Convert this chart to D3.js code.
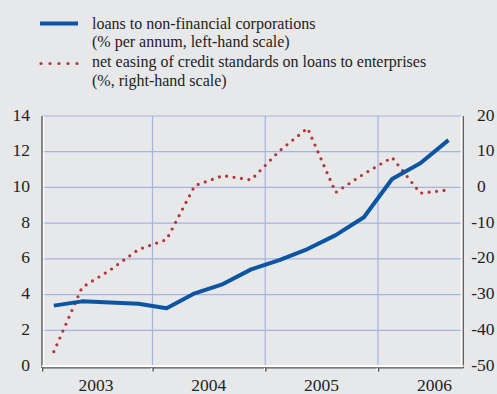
<!DOCTYPE html>
<html>
<head>
<meta charset="utf-8">
<script src="https://cdn.jsdelivr.net/npm/d3@7"></script>
<style>
  html, body { margin: 0; padding: 0; background: #e7e8ea; }
  svg { display: block; }
  svg text { font-family: "Liberation Serif", "Noto Serif", "DejaVu Serif", "Times New Roman", Times, FreeSerif, serif; }
</style>
</head>
<body>
<svg id="chart" width="497" height="394"></svg>
<script>
// ---- data (quarterly, plotted at mid-quarter month) ----
const periods = ["2003-02","2003-05","2003-08","2003-11",
                 "2004-02","2004-05","2004-08","2004-11",
                 "2005-02","2005-05","2005-08","2005-11",
                 "2006-02","2006-05","2006-08"];
const loansGrowth = [3.38, 3.62, 3.56, 3.49, 3.23, 4.07, 4.59, 5.41,
                     5.93, 6.55, 7.33, 8.33, 10.47, 11.35, 12.65];
const creditEasing = [-46, -28, -23.1, -17.4, -14.6, 0.5, 3.3, 2.1,
                      10.2, 16.6, -1.4, 3.8, 8.4, -1.6, -0.7];
const years = [2003, 2004, 2005, 2006];
const leftTicks = [0, 2, 4, 6, 8, 10, 12, 14];
const rightTicks = [-50, -40, -30, -20, -10, 0, 10, 20];
const legendLabels = [
  ["loans to non-financial corporations", "(% per annum, left-hand scale)"],
  ["net easing of credit standards on loans to enterprises", "(%, right-hand scale)"]
];

const toYear = p => { const [y, m] = p.split("-").map(Number); return y + (m - 0.5) / 12; };

const svg = d3.select("#chart").attr("font-size", 17.5).attr("fill", "#222");
const L = 42, R = 462, T = 116, B = 366;

const x = d3.scaleLinear().domain([2003.02, 2006.745]).range([L, R]);
const yL = d3.scaleLinear().domain([0, 14]).range([B, T]);
const yR = d3.scaleLinear().domain([-50, 20]).range([B, T]);

const gridColor = "#a6b3e0";

svg.append("g").selectAll("line").data(leftTicks.filter(d => d > 0)).join("line")
  .attr("x1", L).attr("x2", R)
  .attr("y1", d => yL(d)).attr("y2", d => yL(d))
  .attr("stroke", gridColor).attr("stroke-width", 1.2);

svg.append("g").selectAll("line").data(years.slice(1)).join("line")
  .attr("x1", d => x(d)).attr("x2", d => x(d))
  .attr("y1", T).attr("y2", B)
  .attr("stroke", gridColor).attr("stroke-width", 1.2);

const ax = svg.append("g");
ax.append("line").attr("x1", L + 1.5).attr("x2", L + 1.5).attr("y1", T).attr("y2", B + 1).attr("stroke", "#fff").attr("stroke-width", 1.5);
ax.append("line").attr("x1", L).attr("x2", L).attr("y1", T).attr("y2", B + 2).attr("stroke", "#444").attr("stroke-width", 1.2);
ax.append("line").attr("x1", R - 0.5).attr("x2", R - 0.5).attr("y1", T).attr("y2", B + 1).attr("stroke", "#fff").attr("stroke-width", 1.5);
ax.append("line").attr("x1", R + 1.3).attr("x2", R + 1.3).attr("y1", T).attr("y2", B + 2).attr("stroke", "#555").attr("stroke-width", 1.2);
ax.append("line").attr("x1", L).attr("x2", R + 1.5).attr("y1", B).attr("y2", B).attr("stroke", "#fff").attr("stroke-width", 2);
ax.append("line").attr("x1", L).attr("x2", R + 1.5).attr("y1", B + 1.8).attr("y2", B + 1.8).attr("stroke", "#555").attr("stroke-width", 1.2);
const tickYears = [2003.02, 2004, 2005, 2006];
ax.selectAll(".tw").data(tickYears).join("line")
  .attr("x1", d => x(d) - 0.8).attr("x2", d => x(d) - 0.8)
  .attr("y1", B + 2).attr("y2", B + 5).attr("stroke", "#fff").attr("stroke-width", 1.2);
ax.selectAll(".td").data(tickYears).join("line")
  .attr("x1", d => x(d) + 0.6).attr("x2", d => x(d) + 0.6)
  .attr("y1", B + 2).attr("y2", B + 5.5).attr("stroke", "#444").attr("stroke-width", 1.2);

svg.append("g").selectAll("text").data(years).join("text")
  .attr("x", d => x(d + 0.5)).attr("y", 391)
  .attr("text-anchor", "middle")
  .text(d => d);

svg.append("g").selectAll("text").data(leftTicks).join("text")
  .attr("x", 30).attr("y", d => yL(d) + 4.5)
  .attr("text-anchor", "end")
  .text(d => d);

svg.append("g").selectAll("text").data(rightTicks).join("text")
  .attr("x", 477).attr("y", d => yR(d) + 4.5)
  .attr("dx", d => d < 0 ? "-0.333em" : 0)
  .attr("text-anchor", "start")
  .text(d => d < 0 ? "-" + Math.abs(d) : d);

const lineR = d3.line().x((d, i) => x(toYear(periods[i]))).y(d => yR(d));
svg.append("path").datum(creditEasing)
  .attr("d", lineR).attr("fill", "none")
  .attr("stroke", "#b5333a").attr("stroke-width", 3.2)
  .attr("stroke-linecap", "round").attr("stroke-dasharray", "0 7.5");

const lineL = d3.line().x((d, i) => x(toYear(periods[i]))).y(d => yL(d));
svg.append("path").datum(loansGrowth)
  .attr("d", lineL).attr("fill", "none")
  .attr("stroke", "#0b55a3").attr("stroke-width", 4)
  .attr("stroke-linejoin", "round");

const lg = svg.append("g").attr("font-size", 16);
lg.append("line").attr("x1", 40).attr("x2", 78).attr("y1", 23.5).attr("y2", 23.5)
  .attr("stroke", "#0b55a3").attr("stroke-width", 4);
lg.append("line").attr("x1", 41).attr("x2", 78).attr("y1", 63.5).attr("y2", 63.5)
  .attr("stroke", "#b5333a").attr("stroke-width", 3.2)
  .attr("stroke-linecap", "round").attr("stroke-dasharray", "0 9");
const baselines = [[28.5, 47], [67, 85.5]];
legendLabels.forEach((lines, i) => {
  lines.forEach((t, j) => {
    lg.append("text").attr("x", 92).attr("y", baselines[i][j]).text(t);
  });
});
</script>
</body>
</html>
